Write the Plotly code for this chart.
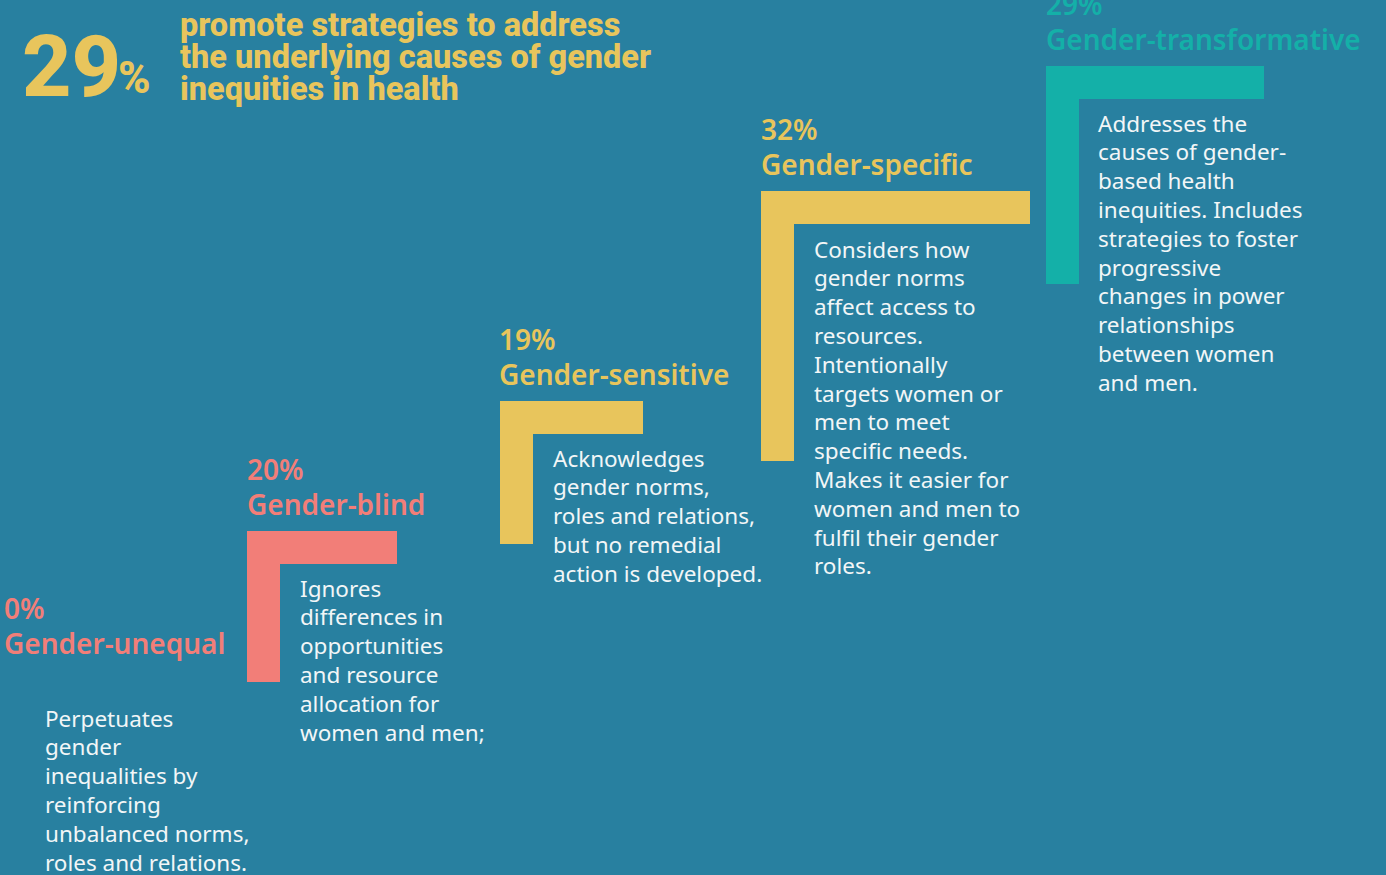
import plotly.graph_objects as go

# data
categories = ["Gender-unequal", "Gender-blind", "Gender-sensitive", "Gender-specific", "Gender-transformative"]
shares = [0, 20, 19, 32, 29]
descriptions = [
    ["Perpetuates", "gender", "inequalities by", "reinforcing", "unbalanced norms,", "roles and relations."],
    ["Ignores", "differences in", "opportunities", "and resource", "allocation for", "women and men;"],
    ["Acknowledges", "gender norms,", "roles and relations,", "but no remedial", "action is developed."],
    ["Considers how", "gender norms", "affect access to", "resources.", "Intentionally", "targets women or",
     "men to meet", "specific needs.", "Makes it easier for", "women and men to", "fulfil their gender", "roles."],
    ["Addresses the", "causes of gender-", "based health", "inequities. Includes", "strategies to foster",
     "progressive", "changes in power", "relationships", "between women", "and men."],
]
headline_value = 29
headline_lines = ["promote strategies to address", "the underlying causes of gender", "inequities in health"]

# layout / styles
BG = "#2880a0"
colors = ["#f27e78", "#f27e78", "#e8c55c", "#e8c55c", "#14b0a8"]
label_x = [2, 245, 497, 759, 1044]
name_y = [643, 504, 374, 164, 39]
desc_x = [43, 298, 551, 812, 1096]
desc_y = [718, 588, 458, 249, 123]
# bracket: left, top, right of top bar, bottom of stem (None = no bracket)
brackets = [None, (247, 531, 397, 682), (500, 401, 643, 544), (761, 191, 1030, 461), (1046, 66, 1264, 284)]
BAR = 33
LINE = 28.8

label_font = "Noto Sans"
body_font = "Noto Sans"
head_font = "Roboto, sans-serif"

fig = go.Figure()
shapes = []
annotations = []

for i, cat in enumerate(categories):
    c = colors[i]
    b = brackets[i]
    if b is not None:
        x0, y0, x1, y1 = b
        shapes.append(dict(type="rect", x0=x0, x1=x1, y0=y0, y1=y0 + BAR, fillcolor=c, line_width=0, layer="below"))
        shapes.append(dict(type="rect", x0=x0, x1=x0 + BAR, y0=y0, y1=y1, fillcolor=c, line_width=0, layer="below"))
    annotations.append(dict(x=label_x[i], y=name_y[i] - 35, text=f"{shares[i]}%", showarrow=False,
                            xanchor="left", yanchor="middle",
                            font=dict(family=label_font, size=28, color=c, weight=600)))
    annotations.append(dict(x=label_x[i], y=name_y[i], text=cat, showarrow=False,
                            xanchor="left", yanchor="middle",
                            font=dict(family=label_font, size=28, color=c, weight=600)))
    for j, line in enumerate(descriptions[i]):
        annotations.append(dict(x=desc_x[i], y=desc_y[i] + j * LINE, text=line, showarrow=False,
                                xanchor="left", yanchor="middle",
                                font=dict(family=body_font, size=22.5, color="#f2f6f7")))

# headline
annotations.append(dict(x=20, y=66, text=f"{headline_value}", showarrow=False, xanchor="left", yanchor="middle",
                        font=dict(family=head_font, size=86, color="#e8c55c", weight=800)))
annotations.append(dict(x=116, y=78, text="%", showarrow=False, xanchor="left", yanchor="middle",
                        font=dict(family=head_font, size=44, color="#e8c55c", weight=800)))
for j, line in enumerate(headline_lines):
    annotations.append(dict(x=178, y=25 + j * 32, text=line, showarrow=False, xanchor="left",
                            yanchor="middle", font=dict(family=head_font, size=32.5, color="#e8c55c", weight=800)))

fig.add_trace(go.Scatter(x=[0, 1386], y=[0, 875], mode="markers", marker=dict(opacity=0), hoverinfo="skip",
                         showlegend=False))

fig.update_layout(
    width=1386, height=875,
    margin=dict(l=0, r=0, t=0, b=0),
    paper_bgcolor=BG, plot_bgcolor=BG,
    xaxis=dict(range=[0, 1386], visible=False, fixedrange=True),
    yaxis=dict(range=[875, 0], visible=False, fixedrange=True),
    shapes=shapes, annotations=annotations,
    showlegend=False,
)

fig.write_html("out.html", config={"displayModeBar": False},
               post_script="document.body.style.margin='0';document.body.style.background='" + BG + "';")
